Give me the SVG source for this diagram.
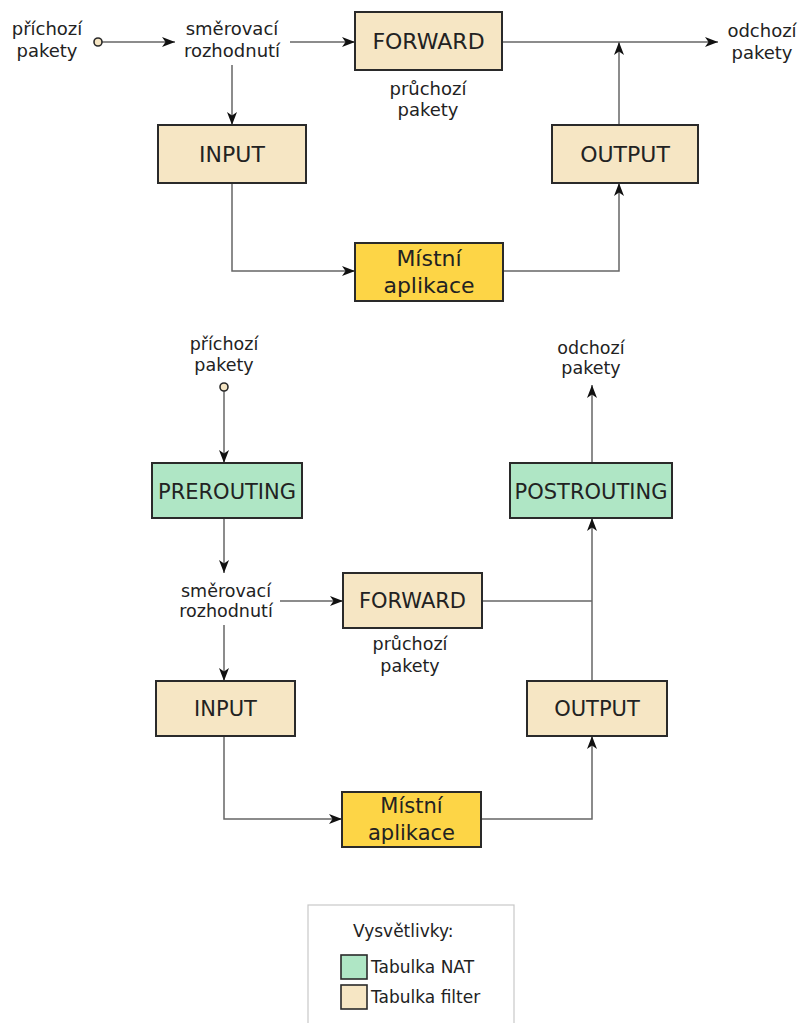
<svg xmlns="http://www.w3.org/2000/svg" width="799" height="1023" viewBox="0 0 799 1023">
<style>
text{font-family:"DejaVu Sans","Liberation Sans",sans-serif;fill:#222;text-anchor:middle}
.lbl{font-size:18px}
.lbl2{font-size:17.5px}
.big{font-size:22px}
.big2{font-size:21px}
.leg{font-size:17px;text-anchor:start}
.filter{fill:#f6e6c4;stroke:#2a2a2a;stroke-width:2}
.nat{fill:#afe6c5;stroke:#2a2a2a;stroke-width:2}
.app{fill:#fdd546;stroke:#2a2a2a;stroke-width:2}
.dot{fill:#f6e6c4;stroke:#2a2a2a;stroke-width:1.6}
.c{fill:none;stroke:#666;stroke-width:1.5}
.a{marker-end:url(#arr)}
</style>
<defs>
<marker id="arr" markerUnits="userSpaceOnUse" markerWidth="14" markerHeight="12" viewBox="0 0 14 12" refX="13" refY="6" orient="auto">
<path d="M0,1 L13,6 L0,11 L3.5,6 Z" fill="#111"/>
</marker>
</defs>

<g id="connectors">
<line class="c a" x1="102" y1="42" x2="175" y2="42"/>
<line class="c a" x1="290" y1="42" x2="355" y2="42"/>
<line class="c a" x1="232" y1="65" x2="232" y2="125"/>
<polyline class="c a" points="232,183 232,271 355,271"/>
<polyline class="c a" points="503,271 619,271 619,183"/>
<line class="c a" x1="619" y1="125" x2="619" y2="42"/>
<line class="c a" x1="502" y1="42" x2="718" y2="42"/>

<line class="c a" x1="224" y1="391" x2="224" y2="463"/>
<line class="c a" x1="224" y1="518" x2="224" y2="573"/>
<line class="c a" x1="280" y1="601" x2="343" y2="601"/>
<line class="c a" x1="224" y1="625" x2="224" y2="681"/>
<polyline class="c a" points="224,736 224,819 342,819"/>
<polyline class="c a" points="481,819 592,819 592,736"/>
<line class="c a" x1="592" y1="681" x2="592" y2="518"/>
<line class="c" x1="482" y1="601" x2="592" y2="601"/>
<line class="c a" x1="592" y1="463" x2="592" y2="385"/>
</g>

<g id="in1"><circle class="dot" cx="98" cy="42" r="4"/><text class="lbl" x="47" y="35">příchozí</text><text class="lbl" x="47" y="57">pakety</text></g>
<g id="route1"><text class="lbl" x="232" y="35">směrovací</text><text class="lbl" x="232" y="57">rozhodnutí</text></g>
<g id="forward1"><rect class="filter" x="355" y="12" width="147" height="58"/><text class="big" x="428.5" y="49">FORWARD</text></g>
<g id="pass1"><text class="lbl" x="428" y="95">průchozí</text><text class="lbl" x="428" y="116">pakety</text></g>
<g id="input1"><rect class="filter" x="158" y="125" width="148" height="58"/><text class="big" x="232" y="162">INPUT</text></g>
<g id="app1"><rect class="app" x="355" y="243" width="148" height="58"/><text class="big" x="429" y="266">Místní</text><text class="big" x="429" y="293">aplikace</text></g>
<g id="output1"><rect class="filter" x="552" y="125" width="146" height="58"/><text class="big" x="625" y="162">OUTPUT</text></g>
<g id="out1"><text class="lbl" x="762" y="37">odchozí</text><text class="lbl" x="762" y="59">pakety</text></g>

<g id="in2"><text class="lbl2" x="224" y="350">příchozí</text><text class="lbl2" x="224" y="371">pakety</text><circle class="dot" cx="224" cy="387" r="4"/></g>
<g id="prerouting"><rect class="nat" x="152" y="463" width="150" height="55"/><text class="big2" x="227" y="499">PREROUTING</text></g>
<g id="route2"><text class="lbl2" x="226" y="597">směrovací</text><text class="lbl2" x="226" y="617">rozhodnutí</text></g>
<g id="forward2"><rect class="filter" x="343" y="573" width="139" height="55"/><text class="big2" x="412.5" y="608">FORWARD</text></g>
<g id="pass2"><text class="lbl2" x="410" y="650">průchozí</text><text class="lbl2" x="410" y="672">pakety</text></g>
<g id="input2"><rect class="filter" x="156" y="681" width="139" height="55"/><text class="big2" x="225.5" y="716">INPUT</text></g>
<g id="app2"><rect class="app" x="342" y="792" width="139" height="55"/><text class="big2" x="411.5" y="813">Místní</text><text class="big2" x="411.5" y="840">aplikace</text></g>
<g id="output2"><rect class="filter" x="527" y="681" width="140" height="55"/><text class="big2" x="597" y="716">OUTPUT</text></g>
<g id="postrouting"><rect class="nat" x="510" y="463" width="162" height="55"/><text class="big2" x="591" y="499">POSTROUTING</text></g>
<g id="out2"><text class="lbl2" x="591" y="354">odchozí</text><text class="lbl2" x="591" y="374">pakety</text></g>

<g id="legend">
<rect x="308" y="905" width="206" height="130" fill="#fff" stroke="#c8c8c8" stroke-width="1.2"/>
<text class="leg" x="353" y="937">Vysvětlivky:</text>
<rect x="341" y="955" width="26" height="24" fill="#afe6c5" stroke="#2a2a2a" stroke-width="1.6"/>
<text class="leg" x="371" y="973">Tabulka NAT</text>
<rect x="341" y="985" width="26" height="24" fill="#f6e6c4" stroke="#2a2a2a" stroke-width="1.6"/>
<text class="leg" x="371" y="1003">Tabulka filter</text>
</g>
</svg>
